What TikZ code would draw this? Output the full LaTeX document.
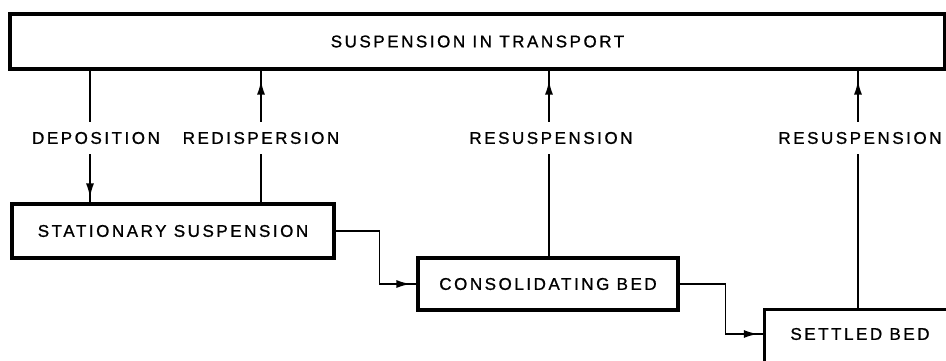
\documentclass[tikz,border=0pt]{standalone}
\usepackage{fontspec}
\setmainfont{Liberation Sans}[LetterSpace=15, FakeBold=1]
\usetikzlibrary{arrows.meta,decorations.markings}

\tikzset{
	block/.style={draw, line width=3.2pt, inner sep=0pt},
	link/.style={line width=1.6pt},
	lab/.style={fill=white, inner xsep=3pt, inner ysep=10pt},
	tipat/.style={postaction={decorate}, decoration={markings, mark=at position #1 with {\arrow{Latex[length=14pt,width=8pt]}}}},
}

\begin{document}
\begin{tikzpicture}[x=1pt, y=-1pt, font=\fontsize{17}{20}\selectfont]
			%%%%% START %%%%%
			\useasboundingbox (0,0) rectangle (946,360);
			
			\node[block, minimum width=935pt, minimum height=55pt] (transport) at (477.5,41.5) {SUSPENSION IN TRANSPORT};
			\node[block, minimum width=322pt, minimum height=54pt] (stationary) at (173,231) {STATIONARY SUSPENSION};
			\node[block, minimum width=260pt, minimum height=52pt] (consol) at (548,284) {CONSOLIDATING BED};
			\node[minimum width=190pt, minimum height=48pt, inner sep=0pt] (settled) at (860,334) {SETTLED BED};
			\draw[line width=3.2pt] ([yshift=-12pt]settled.south west) -- (settled.north west) -- ([xshift=12pt]settled.north east);
			
			\coordinate (depx) at (90,0);
			\coordinate (redx) at (261,0);
			\coordinate (resx) at (549,0);
			\coordinate (setx) at (858,0);
			
			\draw[link, tipat=-5pt] (depx |- transport.south) -- (depx |- stationary.north);
			\draw[link, tipat=-10pt] (redx |- stationary.north) -- (redx |- transport.south);
			\draw[link, tipat=-10pt] (resx |- consol.north) -- (resx |- transport.south);
			\draw[link, tipat=-10pt] (setx |- settled.north) -- (setx |- transport.south);
			
			\draw[link, tipat=-6pt] (stationary.east) -- ++(44,0) |- (consol.west);
			\draw[link, tipat=-7pt] (consol.east) -- ++(46,0) |- (settled.west);
			
			\node[lab] (deplab) at (96,138) {DEPOSITION};
			\node[lab] (redlab) at (261,138) {REDISPERSION};
			\node[lab] (reslab) at (551,138) {RESUSPENSION};
			\node[lab] (setlab) at (860,138) {RESUSPENSION};
			
			%%%%% END %%%%%
\end{tikzpicture}
\end{document}
